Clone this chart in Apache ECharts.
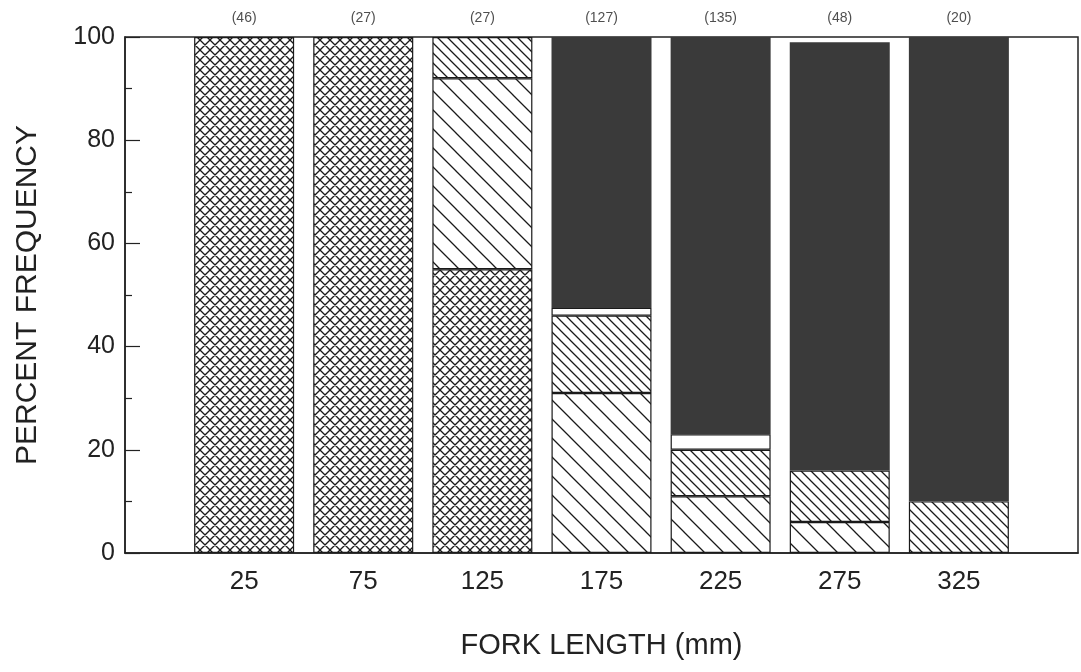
<!DOCTYPE html>
<html>
<head>
<meta charset="utf-8">
<script src="https://cdn.jsdelivr.net/npm/echarts@6/dist/echarts.min.js"></script>
<style>
html,body{margin:0;padding:0;background:#fff;}
#chart{width:1081px;height:672px;}
</style>
</head>
<body>
<div id="chart"></div>
<script>
// ---- data ----
const forkLengths = [25, 75, 125, 175, 225, 275, 325];
const sampleSizes = [46, 27, 27, 127, 135, 48, 20];
const crossHatchPct = [100, 100, 55, 0, 0, 0, 0];
const wideHatchPct  = [0, 0, 37, 31, 11, 6, 0];
const narrowHatchPct = [0, 0, 8, 15, 9, 10, 10];
const blankPct      = [0, 0, 0, 1.5, 3, 0, 0];
const solidPct      = [0, 0, 0, 52.5, 77, 83, 90];
const yTicks = [0, 20, 40, 60, 80, 100];

// axis categories: an empty slot at each end (-25 and 375 mm) frames the bars
const xCats = [''].concat(forkLengths.map(String), ['']);

// ---- patterns ----
function makePattern(p, lw, back, fwd) {
  const c = document.createElement('canvas');
  c.width = p; c.height = p;
  const ctx = c.getContext('2d');
  ctx.fillStyle = '#ffffff';
  ctx.fillRect(0, 0, p, p);
  ctx.strokeStyle = '#1a1a1a';
  ctx.lineWidth = lw;
  ctx.beginPath();
  for (let k = -1; k <= 1; k++) {
    if (back) { ctx.moveTo(k * p - 2, -2); ctx.lineTo(k * p + p + 2, p + 2); }
    if (fwd) { ctx.moveTo(k * p - 2, p + 2); ctx.lineTo(k * p + p + 2, -2); }
  }
  ctx.stroke();
  return { image: c, repeat: 'repeat' };
}
const crossPat = makePattern(10, 1.35, true, true);
const widePat = makePattern(19, 1.3, true, false);
const narrowPat = makePattern(10, 1.3, true, false);

function toData(arr) {
  return ['-'].concat(arr.map(v => v === 0 ? '-' : v), ['-']);
}

const BAR_W = 100;
const borderStyle = { borderColor: '#1a1a1a', borderWidth: 1.2 };

function barSeries(name, arr, itemStyle) {
  return {
    name: name,
    type: 'bar',
    stack: 'pct',
    barWidth: BAR_W,
    data: toData(arr),
    itemStyle: itemStyle,
    silent: true
  };
}

const chart = echarts.init(document.getElementById('chart'), null, { renderer: 'canvas' });
chart.setOption({
  animation: false,
  backgroundColor: '#ffffff',
  grid: {
    left: 125, top: 37, width: 962, height: 516,
    show: true, borderColor: '#222', borderWidth: 1.5, backgroundColor: 'transparent'
  },
  xAxis: {
    type: 'category',
    data: xCats,
    boundaryGap: false,
    name: 'FORK LENGTH (mm)',
    nameLocation: 'middle',
    nameGap: 78,
    nameTextStyle: { fontFamily: 'Liberation Sans', fontSize: 29, color: '#222' },
    axisLine: { show: true, onZero: false, lineStyle: { color: '#222', width: 1.5 } },
    axisTick: { show: false },
    splitLine: { show: false },
    axisLabel: {
      interval: 0,
      margin: 16,
      fontFamily: 'Liberation Sans', fontSize: 26, color: '#222'
    }
  },
  yAxis: {
    type: 'value',
    min: 0, max: 100, interval: 20,
    name: 'PERCENT FREQUENCY',
    nameLocation: 'middle',
    nameGap: 82,
    nameTextStyle: { fontFamily: 'Liberation Sans', fontSize: 30, color: '#222', padding: [0, 0, 0, 0] },
    axisLine: { show: true, onZero: false, lineStyle: { color: '#222', width: 1.5 } },
    axisTick: { show: true, inside: true, length: 15, lineStyle: { color: '#222', width: 1.2 } },
    minorTick: { show: true, splitNumber: 2, length: 7, lineStyle: { color: '#222', width: 1.2 } },
    splitLine: { show: false },
    axisLabel: {
      margin: 10,
      fontFamily: 'Liberation Sans', fontSize: 25, color: '#222',
      formatter: v => yTicks.indexOf(v) >= 0 ? String(v) : ''
    }
  },
  series: [
    barSeries('Cross-hatched', crossHatchPct, Object.assign({ color: crossPat }, borderStyle)),
    barSeries('Wide hatch', wideHatchPct, Object.assign({ color: widePat }, borderStyle)),
    barSeries('Narrow hatch', narrowHatchPct, Object.assign({ color: narrowPat }, borderStyle)),
    barSeries('Blank', blankPct, Object.assign({ color: '#ffffff' }, borderStyle)),
    barSeries('Solid', solidPct, { color: '#3a3a3a', borderWidth: 0 }),
    {
      name: 'n',
      type: 'scatter',
      symbolSize: 0,
      silent: true,
      data: forkLengths.map(x => [String(x), 100]),
      label: {
        show: true,
        position: 'top',
        distance: 12,
        fontFamily: 'Liberation Sans', fontSize: 14, color: '#222',
        formatter: p => '(' + sampleSizes[p.dataIndex] + ')'
      },
      z: 10
    }
  ]
});
</script>
</body>
</html>
